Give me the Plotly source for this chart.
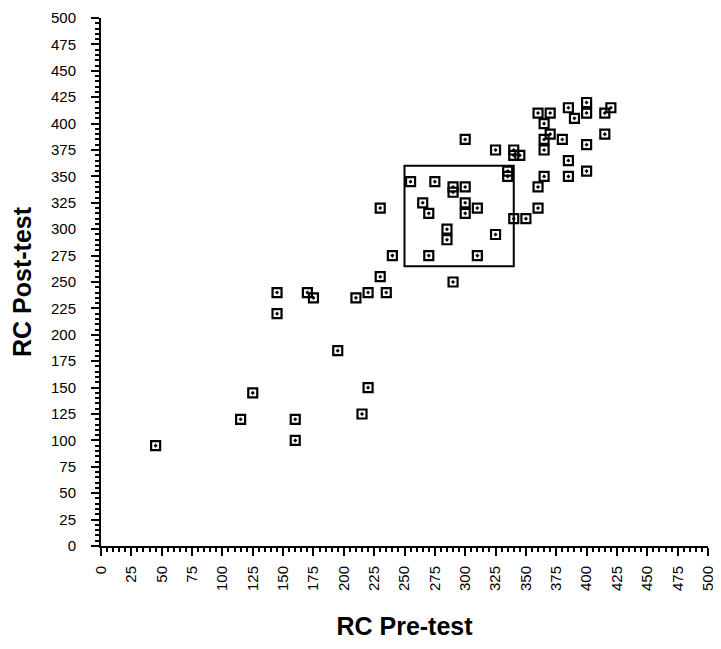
import plotly.graph_objects as go

pre_test = [45, 115, 125, 145, 145, 160, 160, 170, 175, 195, 210, 215, 220, 220,
            230, 230, 235, 240, 255, 265, 270, 270, 275, 285, 285, 290, 290, 290,
            300, 300, 300, 300, 310, 310, 325, 325, 335, 335, 340, 340, 345, 340,
            350, 360, 360, 360, 365, 365, 365, 365, 370, 370, 380, 385, 385, 385,
            390, 400, 400, 400, 400, 415, 415, 420]
post_test = [95, 120, 145, 240, 220, 120, 100, 240, 235, 185, 235, 125, 150, 240,
             255, 320, 240, 275, 345, 325, 315, 275, 345, 300, 290, 340, 335, 250,
             385, 340, 325, 315, 320, 275, 375, 295, 355, 350, 375, 370, 370, 310,
             310, 410, 340, 320, 400, 385, 375, 350, 410, 390, 385, 415, 365, 350,
             405, 420, 410, 380, 355, 410, 390, 415]

box_x = [250, 340]
box_y = [265, 360]

ticks = list(range(0, 501, 25))
tick_text = [str(t) for t in ticks]

FONT = "Liberation Sans, Arial, sans-serif"

fig = go.Figure()
fig.add_trace(go.Scatter(
    x=pre_test, y=post_test, mode="markers",
    marker=dict(symbol="square-open-dot", size=9, color="black",
                line=dict(width=2.2, color="black")),
    showlegend=False, hoverinfo="x+y"))

fig.add_shape(type="rect", x0=box_x[0], x1=box_x[1], y0=box_y[0], y1=box_y[1],
              line=dict(color="black", width=2), xref="x", yref="y")

axis_common = dict(
    range=[0, 500], showgrid=False, zeroline=False, showline=True,
    linecolor="black", linewidth=2, ticks="outside", ticklen=8, tickwidth=2,
    tickcolor="black", tickvals=ticks, ticktext=tick_text,
    tickfont=dict(family=FONT, size=15, color="black"),
    ticklabeloverflow="allow",
    minor=dict(dtick=5, ticks="outside", ticklen=4, tickwidth=1.5, tickcolor="black",
               showgrid=False),
)

fig.update_xaxes(**axis_common, tickangle=-90, ticklabelstandoff=4,
                 title=dict(text="<b>RC Pre-test</b>", standoff=27,
                            font=dict(family=FONT, size=25, color="black")))
fig.update_yaxes(**axis_common, ticklabelstandoff=12,
                 title=dict(text="<b>RC Post-test</b>", standoff=12,
                            font=dict(family=FONT, size=25, color="black")))

fig.update_layout(
    width=713, height=641,
    margin=dict(l=93, r=13, t=10, b=103, autoexpand=False),
    plot_bgcolor="white", paper_bgcolor="white",
)

fig.write_html("out.html")
